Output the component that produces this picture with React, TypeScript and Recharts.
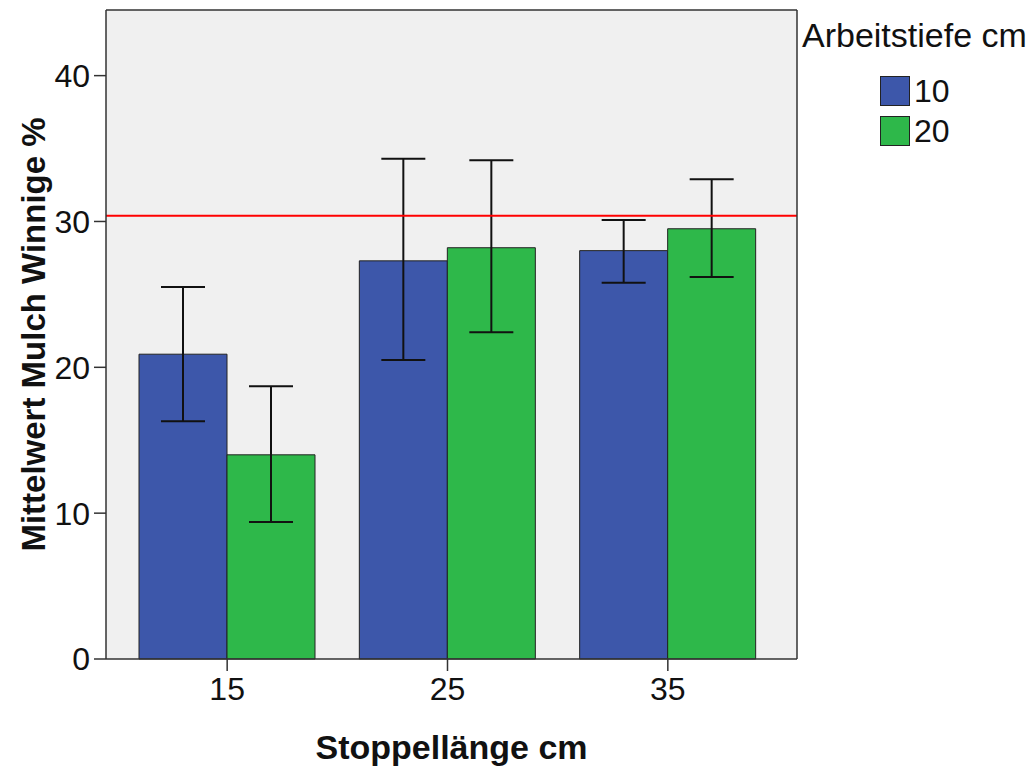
import React from 'react'
import { Bar, BarChart, CartesianGrid, ErrorBar, Legend, ReferenceLine, XAxis, YAxis } from 'recharts'

// Stoppellänge (cm) categories
const stoppellaenge = ['15', '25', '35']

// Mittelwert Mulch Winnige % per Arbeitstiefe, with 95% CI bounds
const tiefe10 = [20.9, 27.3, 28.0]
const tiefe10Low = [16.3, 20.5, 25.8]
const tiefe10High = [25.5, 34.3, 30.1]

const tiefe20 = [14.0, 28.2, 29.5]
const tiefe20Low = [9.4, 22.4, 26.2]
const tiefe20High = [18.7, 34.2, 32.9]

const yTicks = [0, 10, 20, 30, 40]
const yMax = 44.5
const grenzwert = 30.4

const FONT = '"Liberation Sans", Arial, sans-serif'
const BLUE = '#3d57aa'
const GREEN = '#2eb84a'
const FRAME = '#333333'

const data = stoppellaenge.map((s, i) => ({
    s,
    t10: tiefe10[i],
    t10Err: [tiefe10[i] - tiefe10Low[i], tiefe10High[i] - tiefe10[i]],
    t20: tiefe20[i],
    t20Err: [tiefe20[i] - tiefe20Low[i], tiefe20High[i] - tiefe20[i]],
}))

const LegendBox = ({ payload }: any) => (
    <div style={{ fontFamily: FONT, color: '#111', textAlign: 'left' }}>
        <div style={{ fontSize: 34, lineHeight: '38px', whiteSpace: 'nowrap' }}>Arbeitstiefe cm</div>
        <div style={{ marginTop: 17, marginLeft: 78 }}>
            {(payload || []).map((p: any) => (
                <div key={p.value} style={{ display: 'flex', alignItems: 'center', height: 40 }}>
                    <div style={{ width: 28, height: 28, background: p.color, border: '1px solid #222' }} />
                    <span style={{ fontSize: 32, marginLeft: 4, lineHeight: '40px' }}>{p.value}</span>
                </div>
            ))}
        </div>
    </div>
)

const App: React.FC = () => {
    return (
        <div style={{ position: 'absolute', left: 0, top: 0, background: '#fff' }}>
            <BarChart
                width={1032}
                height={767}
                data={data}
                margin={{ top: 9, right: 234, bottom: 0, left: 0 }}
                barGap={0}
                barSize={88}
                style={{ fontFamily: FONT }}
            >
                <CartesianGrid fill='#f0f0f0' horizontal={false} vertical={false} />
                <XAxis
                    dataKey='s'
                    height={108}
                    padding={{ left: 11, right: 19 }}
                    axisLine={{ stroke: FRAME, strokeWidth: 1.5 }}
                    tickLine={{ stroke: FRAME, strokeWidth: 1.5 }}
                    tickSize={12}
                    tickMargin={6}
                    tick={{ fill: '#111', fontSize: 32 }}
                    label={{ value: 'Stoppellänge cm', position: 'insideBottom', offset: 8, fill: '#111', fontSize: 34, fontWeight: 'bold' }}
                />
                {/* top and right edges of the frame */}
                <XAxis xAxisId='top' dataKey='s' orientation='top' height={1} tick={false} tickLine={false} axisLine={{ stroke: FRAME, strokeWidth: 1.5 }} />
                <YAxis
                    width={106}
                    domain={[0, yMax]}
                    ticks={yTicks}
                    axisLine={{ stroke: FRAME, strokeWidth: 1.5 }}
                    tickLine={{ stroke: FRAME, strokeWidth: 1.5 }}
                    tickSize={12}
                    tickMargin={4}
                    tick={{ fill: '#111', fontSize: 32 }}
                    label={{ value: 'Mittelwert Mulch Winnige %', angle: -90, position: 'center', dx: -20, fill: '#111', fontSize: 33, fontWeight: 'bold' }}
                />
                <YAxis yAxisId='right' orientation='right' width={1} domain={[0, yMax]} tick={false} tickLine={false} axisLine={{ stroke: FRAME, strokeWidth: 1.5 }} />
                <Legend
                    layout='horizontal'
                    verticalAlign='middle'
                    align='center'
                    content={<LegendBox />}
                    wrapperStyle={{ top: 16, left: 802, width: 230 }}
                />
                <Bar dataKey='t10' name='10' fill={BLUE} stroke='#222' strokeWidth={1} isAnimationActive={false}>
                    <ErrorBar dataKey='t10Err' width={22} stroke='#111' strokeWidth={2} />
                </Bar>
                <Bar dataKey='t20' name='20' fill={GREEN} stroke='#222' strokeWidth={1} isAnimationActive={false}>
                    <ErrorBar dataKey='t20Err' width={22} stroke='#111' strokeWidth={2} />
                </Bar>
                <ReferenceLine y={grenzwert} stroke='#ff0000' strokeWidth={2} />
            </BarChart>
        </div>
    )
}

export default App
